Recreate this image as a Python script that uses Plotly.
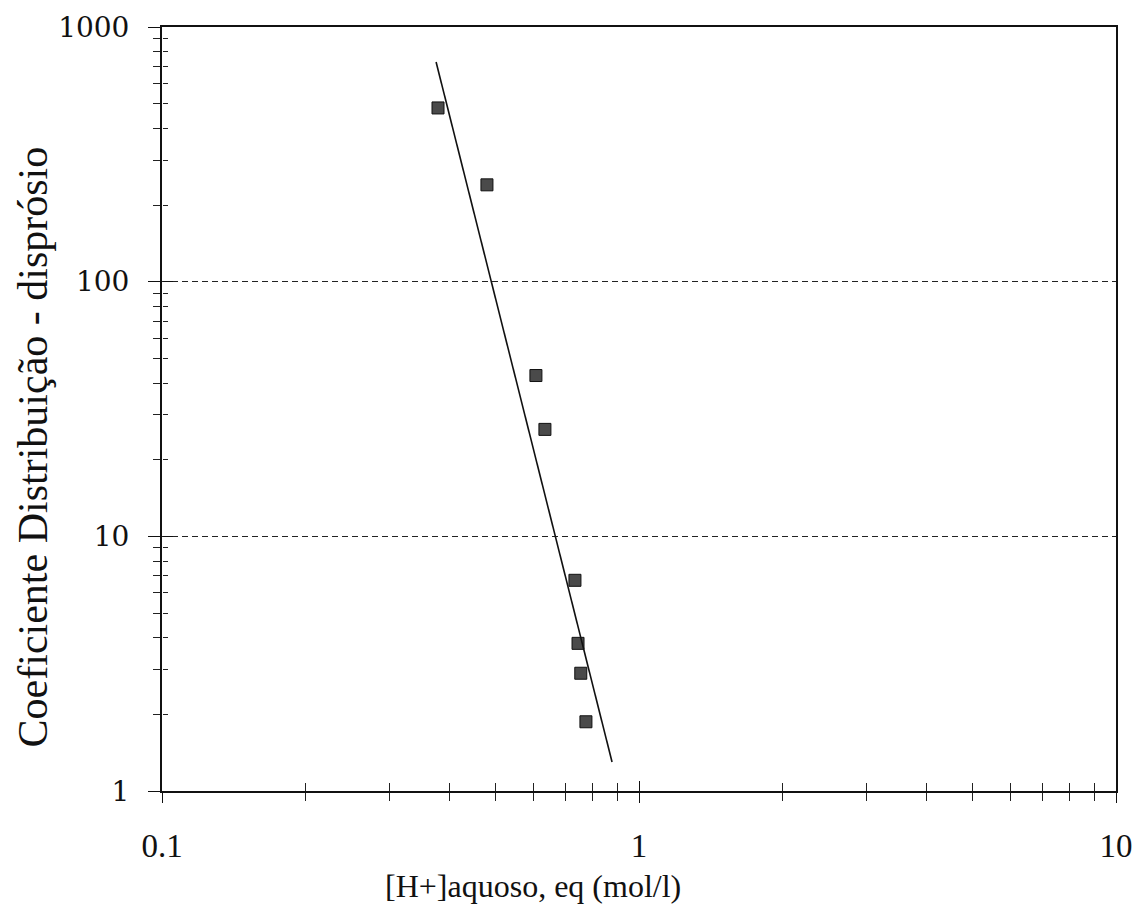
import plotly.graph_objects as go

# Data
h_conc = [0.379, 0.480, 0.608, 0.635, 0.734, 0.745, 0.755, 0.774]
dist_coef = [481, 240, 42.8, 26.3, 6.72, 3.8, 2.9, 1.87]

fit_x = [0.3755, 0.878]
fit_y = [729, 1.30]

x_major = [0.1, 1, 10]
x_major_labels = ["0.1", "1", "10"]
x_minor = [0.2, 0.3, 0.4, 0.5, 0.6, 0.7, 0.8, 0.9, 2, 3, 4, 5, 6, 7, 8, 9]
y_major = [1, 10, 100, 1000]
y_major_labels = ["1", "10", "100", "1000"]
y_minor = [2, 3, 4, 5, 6, 7, 8, 9, 20, 30, 40, 50, 60, 70, 80, 90,
           200, 300, 400, 500, 600, 700, 800, 900]

x_title = "[H+]aquoso, eq (mol/l)"
y_title = "Coeficiente Distribuição - disprósio"

serif = "Liberation Serif"

fig = go.Figure()
fig.add_trace(go.Scatter(
    x=h_conc, y=dist_coef, mode="markers",
    marker=dict(symbol="square", size=12, color="#4a4a4a",
                line=dict(color="#111", width=1)),
    showlegend=False, xaxis="x", yaxis="y"))
fig.add_trace(go.Scatter(
    x=fit_x, y=fit_y, mode="lines",
    line=dict(color="#111", width=1.6),
    showlegend=False, xaxis="x2", yaxis="y2"))

common_x = dict(type="log", range=[-1, 1], tickmode="array", tickvals=x_major,
                automargin=False, zeroline=False, showgrid=False)
common_y = dict(type="log", range=[0, 3], tickmode="array", tickvals=y_major,
                automargin=False, zeroline=False)

fig.update_layout(
    template="none",
    width=1137, height=912,
    margin=dict(l=162, r=21, t=27, b=121, pad=0),
    paper_bgcolor="white", plot_bgcolor="white",
    xaxis=dict(**common_x, ticktext=x_major_labels,
               ticks="outside", ticklen=10, tickwidth=1.2, tickcolor="#111",
               minor=dict(tickmode="array", tickvals=x_minor, ticks="outside",
                          ticklen=8, tickwidth=1, tickcolor="#222", showgrid=False),
               showline=True, linecolor="#111", linewidth=2, mirror=True,
               tickfont=dict(family=serif, size=33, color="#111"),
               ticklabelstandoff=14),
    xaxis2=dict(**common_x, overlaying="x", anchor="free", position=0, side="bottom",
                showticklabels=False, ticks="inside", ticklen=10, tickwidth=1.2,
                tickcolor="#111",
                minor=dict(tickmode="array", tickvals=x_minor, ticks="inside",
                           ticklen=8, tickwidth=1, tickcolor="#222", showgrid=False),
                showline=False),
    yaxis=dict(**common_y, ticktext=y_major_labels,
               ticks="outside", ticklen=12, tickwidth=1.2, tickcolor="#111",
               minor=dict(tickmode="array", tickvals=y_minor, ticks="outside",
                          ticklen=7, tickwidth=1, tickcolor="#222", showgrid=False),
               showgrid=True, gridcolor="#222", gridwidth=1.3, griddash="6px,4px",
               showline=True, linecolor="#111", linewidth=2, mirror=True,
               tickfont=dict(family="DejaVu Serif", size=28, color="#111"),
               ticklabelstandoff=13),
    yaxis2=dict(**common_y, overlaying="y", anchor="free", position=0, side="left",
                showticklabels=False, ticks="inside", ticklen=10, tickwidth=1.2,
                tickcolor="#111", showgrid=False,
                minor=dict(tickmode="array", tickvals=y_minor, ticks="inside",
                           ticklen=5, tickwidth=1, tickcolor="#222", showgrid=False),
                showline=False),
    annotations=[
        dict(text=x_title, xref="paper", yref="paper", x=0.389, y=-0.124,
             xanchor="center", yanchor="middle", showarrow=False,
             font=dict(family=serif, size=32, color="#111")),
        dict(text=y_title, xref="paper", yref="paper", x=-0.135, y=0.45,
             xanchor="center", yanchor="middle", textangle=-90, showarrow=False,
             font=dict(family=serif, size=42, color="#111")),
    ],
)

fig.write_html("out.html")
